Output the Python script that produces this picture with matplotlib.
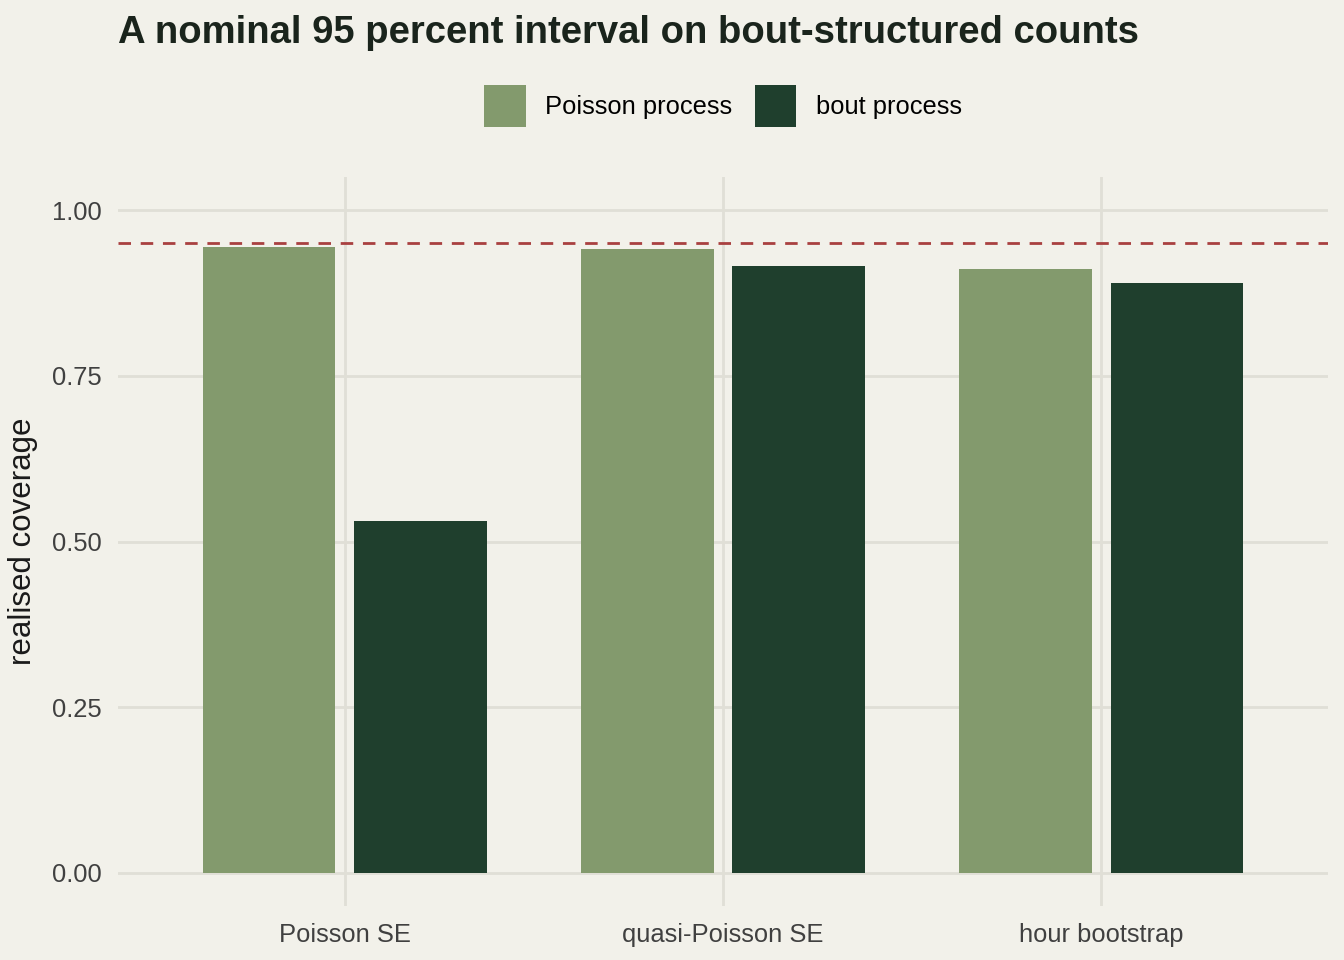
import numpy as np
import matplotlib.pyplot as plt
from matplotlib.patches import Patch

plt.rcParams["font.family"] = ["Liberation Sans", "DejaVu Sans"]

# data
methods = ["Poisson SE", "quasi-Poisson SE", "hour bootstrap"]
series = ["Poisson process", "bout process"]
poisson_cov = [0.944, 0.941, 0.911]
bout_cov = [0.531, 0.916, 0.890]
nominal = 0.95

bg = "#F2F1EA"
grid_col = "#E0DFD6"
colors = ["#839A6D", "#1F3F2D"]

fig = plt.figure(figsize=(13.44, 9.6), dpi=100, facecolor=bg)
ax = fig.add_axes([118 / 1344, 1 - 906 / 960, 1210 / 1344, 729 / 960])
ax.set_facecolor(bg)

x = np.arange(len(methods)) + 1
width = 0.35
ax.bar(x - 0.2, poisson_cov, width, color=colors[0], zorder=3)
ax.bar(x + 0.2, bout_cov, width, color=colors[1], zorder=3)
ax.axhline(nominal, color="#A94040", lw=2, ls=(0, (4.5, 3.5)), zorder=4)

ax.set_xlim(0.4, 3.6)
ax.set_ylim(-0.05, 1.05)
ax.set_xticks(x)
ax.set_xticklabels(methods)
ax.set_yticks([0, 0.25, 0.5, 0.75, 1.0])
ax.set_yticklabels(["0.00", "0.25", "0.50", "0.75", "1.00"])
ax.grid(True, color=grid_col, lw=2, zorder=0)
ax.tick_params(length=0, labelsize=18.4, colors="#404040", pad=12)
for s in ax.spines.values():
    s.set_visible(False)
ax.set_ylabel("realised coverage", fontsize=22.5, color="#1a1a1a", labelpad=10)

fig.text(118 / 1344, 1 - 33 / 960, "A nominal 95 percent interval on bout-structured counts",
         fontsize=27.5, fontweight="bold", color="#1A241C", va="center", ha="left")

handles = [Patch(facecolor=c, edgecolor="none") for c in colors]
fig.legend(handles, series, loc="center", bbox_to_anchor=(723 / 1344, 1 - 106 / 960),
           ncol=2, frameon=False, fontsize=18.4, handlelength=1.62, handleheight=2.1,
           handletextpad=0.75, columnspacing=0.9)

fig.savefig("out.png", dpi=100, facecolor=bg)
